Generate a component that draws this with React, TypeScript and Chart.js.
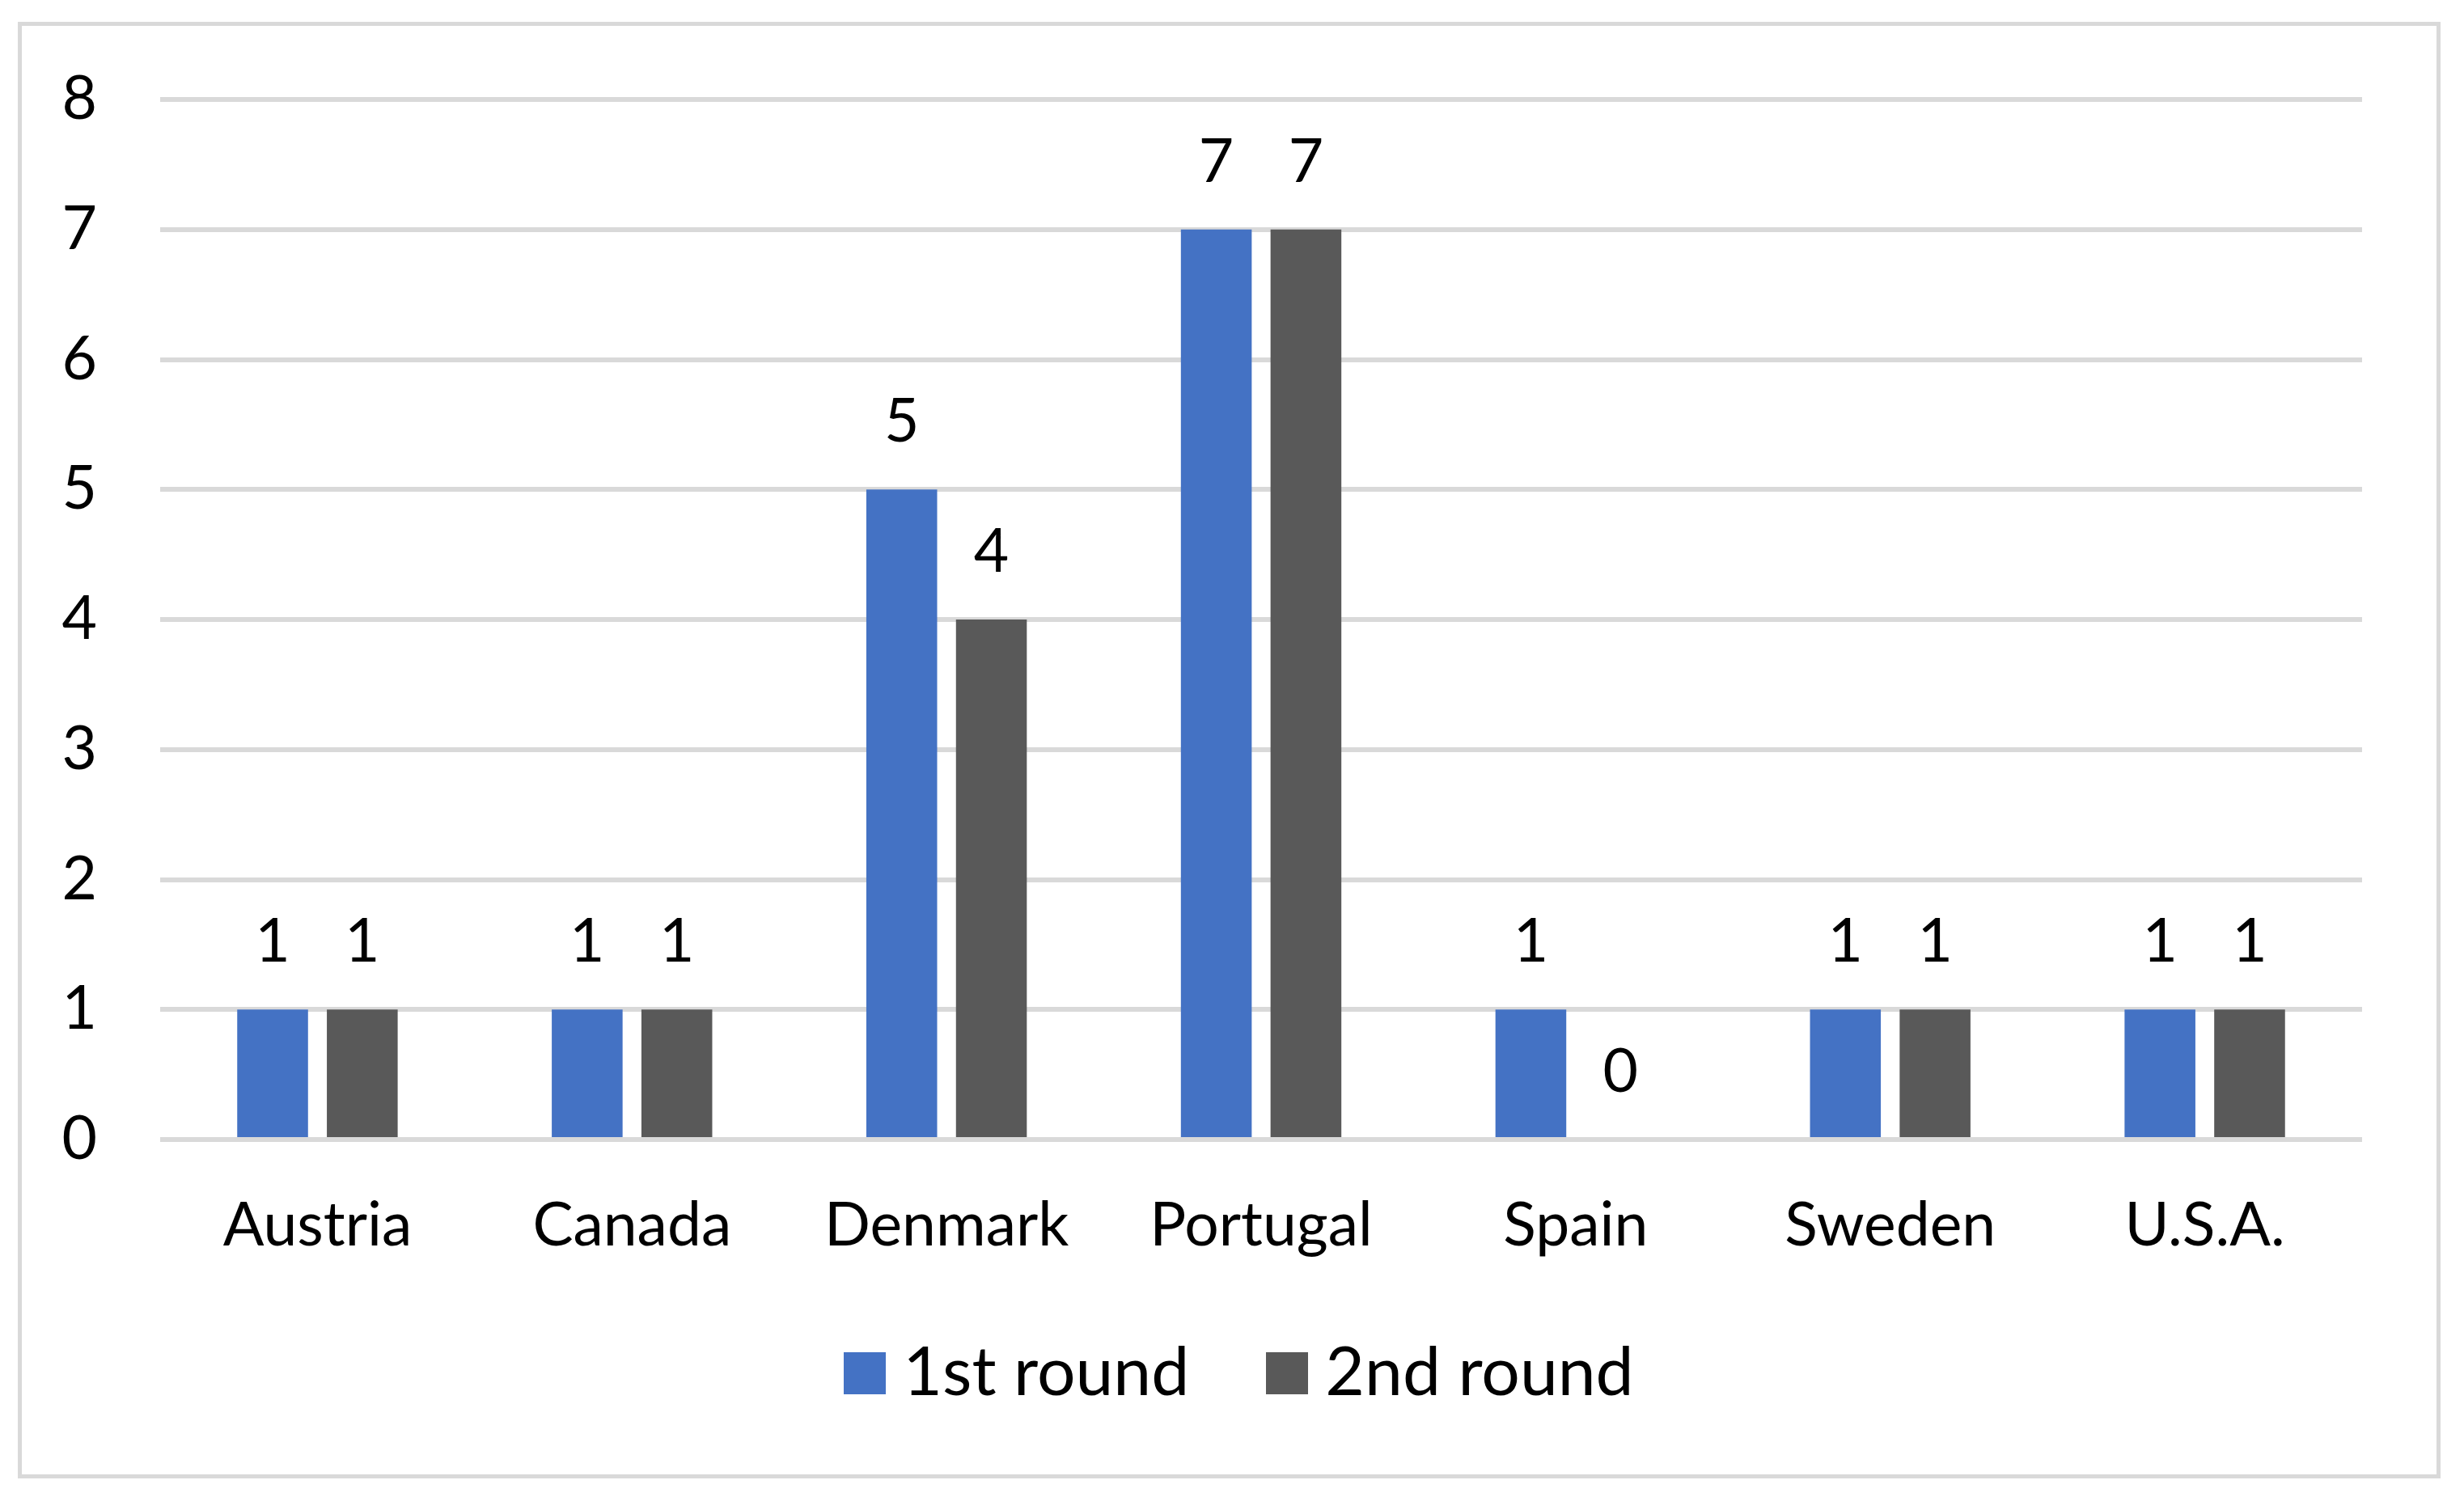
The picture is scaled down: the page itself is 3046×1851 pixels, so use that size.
import React, { useEffect, useRef } from "react";
import { Chart, registerables } from "chart.js";

Chart.register(...registerables);

const categories = ["Austria", "Canada", "Denmark", "Portugal", "Spain", "Sweden", "U.S.A."];
const firstRound = [1, 1, 5, 7, 1, 1, 1];
const secondRound = [1, 1, 4, 7, 0, 1, 1];
const seriesNames = ["1st round", "2nd round"];
const seriesColors = ["#4472C4", "#595959"];
const yMin = 0;
const yMax = 8;
const yStep = 1;

const FONT = "Lato, 'Noto Sans', sans-serif";

const valueLabels = {
  id: "valueLabels",
  afterDatasetsDraw(chart: any) {
    const ctx = chart.ctx;
    ctx.save();
    ctx.font = `75px ${FONT}`;
    ctx.fillStyle = "#000000";
    ctx.textAlign = "center";
    ctx.textBaseline = "middle";
    chart.data.datasets.forEach((ds: any, i: number) => {
      const meta = chart.getDatasetMeta(i);
      meta.data.forEach((el: any, j: number) => {
        ctx.fillText(String(ds.data[j]), el.x, el.y - 83);
      });
    });
    ctx.restore();
  },
};

// nudges the legend box (offset left and up) after the layout
const legendNudge = {
  id: "legendNudge",
  afterLayout(chart: any) {
    const lg = chart.legend;
    if (!lg) return;
    lg.left -= 17;
    lg.right -= 17;
    lg.top -= 22;
    lg.bottom -= 22;
  },
};

function makeSwatch(color: string): HTMLCanvasElement {
  const c = document.createElement("canvas");
  c.width = 52;
  c.height = 52;
  const g = c.getContext("2d");
  if (g) {
    g.fillStyle = color;
    g.fillRect(0, 0, 52, 52);
  }
  return c;
}

export default function App() {
  const ref = useRef<HTMLCanvasElement | null>(null);

  useEffect(() => {
    if (!ref.current) return;
    const swatches = seriesColors.map(makeSwatch);
    const chart = new Chart(ref.current, {
      type: "bar",
      data: {
        labels: categories,
        datasets: [
          {
            label: seriesNames[0],
            data: firstRound,
            backgroundColor: seriesColors[0],
            categoryPercentage: 0.57,
            barPercentage: 0.79,
          },
          {
            label: seriesNames[1],
            data: secondRound,
            backgroundColor: seriesColors[1],
            categoryPercentage: 0.57,
            barPercentage: 0.79,
          },
        ],
      },
      options: {
        responsive: false,
        animation: false,
        devicePixelRatio: 1,
        layout: { padding: { left: 0, right: 126, top: 118, bottom: 79 } },
        plugins: {
          tooltip: { enabled: false },
          title: { display: false },
          legend: {
            display: true,
            position: "bottom",
            fullSize: false,
            labels: {
              font: { family: FONT, size: 84 },
              color: "#000000",
              boxWidth: 52,
              boxHeight: 52,
              usePointStyle: true,
              pointStyleWidth: 10,
              padding: 116,
              generateLabels: (c: any) =>
                Chart.defaults.plugins.legend.labels
                  .generateLabels(c)
                  .map((item: any, i: number) => ({ ...item, pointStyle: swatches[i] })),
            },
          },
        },
        scales: {
          x: {
            grid: { display: false, drawTicks: false },
            border: { display: false },
            ticks: {
              font: { family: FONT, size: 75 },
              color: "#000000",
              padding: 62,
              maxRotation: 0,
              autoSkip: false,
            },
            afterFit: (scale: any) => {
              scale.height = 153;
            },
          },
          y: {
            min: yMin,
            max: yMax,
            grid: { color: "#D9D9D9", lineWidth: 6, drawTicks: false },
            border: { display: false },
            ticks: {
              stepSize: yStep,
              font: { family: FONT, size: 75 },
              color: "#000000",
              padding: 78,
            },
            afterFit: (scale: any) => {
              scale.width = 198;
            },
          },
        },
      },
      plugins: [valueLabels, legendNudge],
    });
    return () => chart.destroy();
  }, []);

  return (
    <div
      style={{
        position: "absolute",
        left: 0,
        top: 0,
        width: 3046,
        height: 1851,
        background: "#ffffff",
        overflow: "hidden",
      }}
    >
      <canvas
        ref={ref}
        width={3046}
        height={1851}
        style={{ position: "absolute", left: 0, top: 0, width: 3046, height: 1851 }}
      />
      <div
        style={{
          position: "absolute",
          left: 22,
          top: 27,
          width: 2995,
          height: 1801,
          border: "5px solid #D9D9D9",
          boxSizing: "border-box",
          pointerEvents: "none",
        }}
      />
    </div>
  );
}
